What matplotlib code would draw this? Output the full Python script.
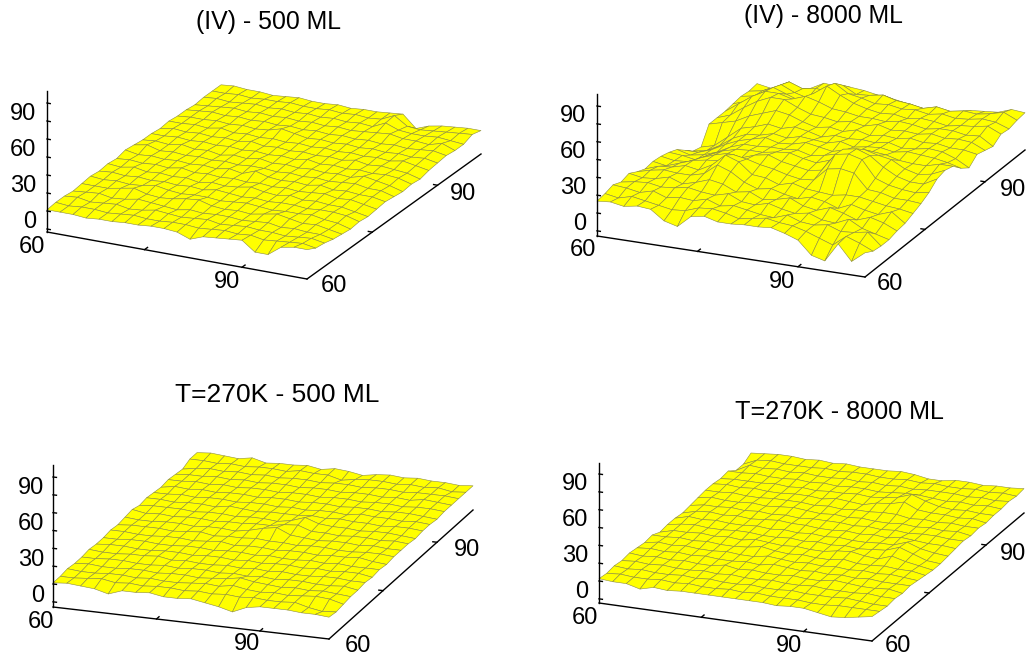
import math
import numpy as np
import matplotlib
matplotlib.use("Agg")
import matplotlib.pyplot as plt
from mpl_toolkits.mplot3d import proj3d

plt.rcParams['font.family'] = ['Liberation Sans', 'DejaVu Sans']
W, H = 1032, 657

grid = [60, 62, 64, 66, 68, 70, 72, 74, 76, 78, 80, 82, 84, 86, 88, 90, 92, 94, 96, 98, 100]
z_ticks = [-15, 0, 15, 30, 45, 60, 75, 90]
xy_ticks = [75, 90]

titles = ["(IV) - 500 ML", "(IV) - 8000 ML", "T=270K - 500 ML", "T=270K - 8000 ML"]

z_iv_500 = [
[1,1,1,0,1,1,2,2,3,3,2,-2,2,3,4,5,-3,-3,5,7,7],
[2,1,2,2,1,2,3,2,2,3,3,2,3,4,3,4,2,3,4,5,3],
[2,3,1,2,3,1,2,4,3,2,3,4,2,3,4,3,3,2,3,4,2],
[1,2,3,1,2,4,3,2,1,3,2,3,3,2,3,4,2,3,2,2,0],
[2,2,2,4,6,3,2,3,5,6,3,2,3,2,4,6,4,2,3,1,-1],
[3,2,3,2,3,5,3,2,3,3,2,3,4,3,2,3,3,4,2,1,-2],
[2,3,2,3,2,3,2,3,2,4,3,2,3,2,3,3,2,3,3,2,-1],
[3,2,4,2,3,2,3,1,3,2,3,5,3,2,4,2,3,2,2,0,-2],
[2,3,2,3,2,4,2,3,2,3,2,3,2,3,2,3,4,2,3,1,-1],
[4,2,3,2,3,2,3,2,4,2,6,3,2,3,2,4,2,3,2,2,0],
[3,5,2,3,2,3,2,3,2,3,3,2,3,2,3,2,3,4,2,2,-1],
[2,3,2,4,2,3,1,3,2,4,2,3,2,3,2,3,2,5,3,1,-2],
[2,2,3,2,3,2,3,2,3,2,3,2,4,2,3,2,3,2,3,2,-1],
[1,3,2,3,2,3,2,4,2,3,2,3,2,3,2,4,2,3,2,1,-2],
[2,2,3,2,4,2,3,2,3,2,3,2,3,2,3,2,3,2,4,2,0],
[1,2,2,3,2,3,2,3,6,4,2,3,2,3,2,3,2,3,2,3,1],
[1,2,3,2,3,2,3,2,3,2,3,2,3,2,3,2,3,2,3,4,2],
[0,1,2,3,2,3,2,3,2,3,2,3,2,3,4,5,3,3,2,5,1],
[1,2,1,2,3,2,3,2,3,2,3,2,3,2,7,3,2,2,3,2,1],
[1,1,2,1,2,2,3,2,2,3,2,3,2,3,8,1,0,1,2,3,4],
[1,2,1,1,0,1,2,1,1,2,1,2,2,3,4,-6,-2,0,1,2,2],
]

z_iv_8000 = [
[10,11,9,11,10,2,-1,9,11,8,8,9,9,10,7,3,-8,-11,5,-8,1],
[11,9,12,10,8,6,7,11,12,10,7,9,11,9,8,5,1,-3,6,2,-3],
[13,12,10,13,9,11,10,13,9,11,9,7,6,10,6,5,7,3,4,6,-4],
[10,12,13,11,12,14,12,11,14,9,8,11,8,6,8,4,3,8,2,-1,-4],
[12,10,11,14,10,13,17,15,10,12,7,9,12,7,5,9,6,2,6,3,-2],
[8,11,13,12,12,15,24,20,13,9,11,8,6,9,7,3,8,5,3,7,-1],
[5,9,10,13,11,17,27,23,14,13,9,12,9,8,7,9,9,7,5,4,2],
[6,4,8,12,14,15,22,20,17,15,12,10,11,22,24,22,10,9,6,6,5],
[5,3,4,9,13,16,14,18,20,16,14,12,14,29,31,28,14,10,8,7,9],
[3,2,0,6,11,14,15,15,17,18,15,13,17,28,30,26,18,12,9,9,15],
[0,-3,-1,3,9,13,13,14,14,15,12,14,17,22,24,21,19,13,10,12,17],
[-6,-6,-2,4,9,12,15,12,13,16,14,12,15,16,17,16,13,12,12,15,15],
[-12,-10,-4,4,9,10,13,11,14,13,12,15,12,14,15,13,15,14,13,11,8],
[-14,-11,-2,7,10,14,12,15,13,10,13,12,13,12,14,11,12,14,13,9,3],
[0,3,6,12,16,20,18,14,11,13,11,14,11,13,12,14,12,13,11,11,9],
[0,4,12,19,24,24,19,15,14,12,14,12,15,12,13,12,14,12,13,12,7],
[0,8,16,22,22,19,23,20,16,15,13,13,12,14,13,11,13,13,11,12,5],
[1,5,13,20,16,12,20,28,22,17,14,12,13,11,13,12,10,12,13,15,10],
[2,4,10,17,12,9,16,25,18,16,13,14,12,13,11,13,11,12,14,13,9],
[1,3,8,14,10,12,10,18,12,13,15,12,11,9,12,10,12,11,13,16,11],
[2,0,1,-1,5,11,10,11,10,8,7,5,3,2,0,1,7,8,9,13,12],
]

z_t270_500 = [
[1,2,1,0,-3,1,1,2,0,0,1,-1,-3,-6,-1,1,1,1,0,0,-1],
[1,1,2,3,1,2,1,2,2,1,2,1,2,1,2,1,1,2,-1,-3,-2],
[2,1,1,2,2,1,2,1,1,2,3,2,4,2,1,2,1,2,3,2,-1],
[1,2,1,1,2,2,1,2,2,1,2,3,5,3,2,1,2,1,2,1,0],
[1,1,2,2,1,1,2,1,2,2,1,2,1,2,1,2,2,1,1,2,0],
[2,1,1,2,2,3,1,2,1,1,2,1,2,1,2,1,1,2,2,1,1],
[1,2,2,1,1,2,2,1,2,2,1,2,1,2,2,1,2,1,2,2,0],
[1,1,2,2,1,1,2,2,1,2,2,1,2,1,1,2,1,2,1,1,1],
[2,2,1,1,2,2,1,2,3,1,2,2,1,2,2,1,2,2,3,1,0],
[1,2,2,2,1,2,3,1,2,2,3,2,2,1,2,2,1,1,2,2,1],
[2,1,1,2,2,1,2,2,1,3,6,8,3,2,1,2,2,1,2,1,1],
[3,1,2,1,2,2,1,2,2,3,3,5,6,2,2,1,2,2,1,2,1],
[1,2,2,2,1,2,2,1,2,2,1,3,7,3,2,2,1,2,2,1,0],
[2,2,1,2,2,1,3,2,1,2,2,2,3,2,3,2,2,1,2,2,1],
[1,1,2,1,2,2,1,2,2,1,2,1,2,2,1,3,2,2,1,2,1],
[0,2,1,2,1,2,2,1,2,2,1,2,2,1,2,2,1,2,2,1,0],
[1,1,2,1,2,1,2,2,1,2,2,1,2,2,1,2,2,1,2,2,1],
[0,1,1,2,1,2,1,2,2,1,2,2,1,2,2,1,2,1,3,2,1],
[-1,1,2,1,2,1,2,1,2,2,1,2,2,1,2,2,1,2,2,2,1],
[2,2,1,2,1,2,2,1,3,2,2,-1,1,2,2,1,2,1,2,0,1],
[2,3,2,1,3,0,1,1,2,0,2,1,-1,1,2,1,2,1,1,0,1],
]

z_t270_8000 = [
[2,1,1,-2,1,0,1,1,1,1,1,1,1,0,1,1,-1,-3,-2,0,2],
[1,2,1,1,2,1,2,1,1,2,1,2,1,1,1,0,0,1,1,1,1],
[2,1,2,1,1,2,1,2,1,1,2,1,1,2,1,1,1,2,1,0,0],
[1,2,1,2,1,1,2,1,2,1,1,2,1,1,2,1,1,1,2,1,1],
[2,1,2,1,2,1,1,3,1,2,1,1,2,1,1,3,2,1,1,2,0],
[1,2,1,2,1,2,1,1,2,1,3,2,1,2,1,2,1,2,1,1,1],
[0,2,1,2,1,1,2,1,1,3,2,1,2,1,2,1,2,1,2,1,0],
[1,1,2,1,2,1,1,2,4,2,1,2,1,1,3,1,1,2,1,1,-1],
[-2,1,1,2,1,2,1,3,2,1,2,1,1,3,4,2,1,5,2,0,-2],
[-1,1,2,1,1,2,2,1,1,2,1,2,1,2,1,2,3,7,3,-1,-2],
[-1,2,1,2,1,1,2,1,2,1,2,1,2,1,1,2,2,6,2,0,-1],
[-2,1,2,1,2,1,2,3,2,2,1,1,2,1,2,1,3,2,1,1,0],
[-1,1,1,2,1,2,1,2,1,2,2,2,1,2,1,2,1,2,2,1,1],
[0,2,1,1,2,1,2,3,2,1,2,1,2,1,1,2,1,2,1,2,0],
[1,1,2,1,1,2,2,2,1,2,1,2,2,3,3,1,2,1,2,1,1],
[1,2,1,2,1,1,2,2,1,3,2,1,4,5,8,3,2,2,1,2,0],
[0,1,1,1,2,1,2,1,2,2,3,2,3,5,9,5,2,1,2,1,1],
[1,1,2,1,1,2,1,2,1,2,2,1,2,3,3,2,1,2,1,2,1],
[-4,2,1,2,1,2,1,1,2,1,2,1,2,1,2,2,2,1,2,1,2],
[-4,1,2,1,1,1,2,1,2,2,1,1,2,1,2,1,1,2,1,2,1],
[0,1,2,2,1,2,1,2,1,1,1,2,1,-1,-1,1,1,0,1,1,2],
]

panels = [
    dict(z=z_iv_500, O=(47, 232), Xe=(307, 279), Ye=(481, 154), Zt=(47, 91), z0=211, z90=103, fs=17.9,
         title=(268, 21), zl=[(23, 112), (23, 148), (23, 184), (30, 220)],
         xl=[(32, 246), (227, 280)], yl=[(334, 285), (463, 192)]),
    dict(z=z_iv_8000, O=(597, 236), Xe=(865, 277), Ye=(1025, 150), Zt=(597, 94), z0=213, z90=106, fs=17.9,
         title=(823, 15), zl=[(573, 115), (573, 151), (573, 187), (580, 223)],
         xl=[(583, 249), (782, 281)], yl=[(890, 283), (1013, 189)]),
    dict(z=z_t270_500, O=(53, 607), Xe=(329, 639), Ye=(473, 510), Zt=(53, 465), z0=584, z90=477, fs=19,
         title=(277, 394), zl=[(31, 487), (31, 523), (31, 558), (38, 594)],
         xl=[(41, 620), (247, 642)], yl=[(358, 644), (467, 549)]),
    dict(z=z_t270_8000, O=(599, 603), Xe=(872, 641), Ye=(1024, 513), Zt=(599, 463), z0=581, z90=474, fs=18.1,
         title=(839, 411), zl=[(575, 483), (575, 519), (575, 555), (582, 591)],
         xl=[(585, 617), (789, 644)], yl=[(898, 644), (1013, 552)]),
]

fig = plt.figure(figsize=(W / 100, H / 100), dpi=100, facecolor='white')


def px(ax, x, y, z):
    a, b, _ = proj3d.proj_transform(x, y, z, ax.get_proj())
    return ax.transData.transform((a, b))


def add_text(pos, s, size, dy=0):
    fig.text(pos[0] / W, 1 - (pos[1] + dy) / H, s, ha='center', va='center', fontsize=size, color='black')


for n, p in enumerate(panels):
    O, Xe, Ye, Zt = [np.array(p[k], float) for k in ('O', 'Xe', 'Ye', 'Zt')]
    vx = Xe - O
    vy = Ye - Xe
    t1 = vx[1] / vx[0]
    t2 = (-vy[1]) / vy[0]
    sin_e = math.sqrt(t1 * t2)
    ratio = math.sqrt(t1 / t2)
    azim = -math.degrees(math.atan2(1, ratio))
    s, c = math.sin(math.radians(-azim)), math.cos(math.radians(azim))
    elev = math.degrees(math.asin(sin_e))
    lx, ly, lz = vx[0] / s, vy[0] / c, (O[1] - Zt[1]) / math.cos(math.radians(elev))

    unit = (p['z0'] - p['z90']) / 90
    zmin, zmax = -(O[1] - p['z0']) / unit, (p['z0'] - Zt[1]) / unit

    size = 0.5
    ax = fig.add_axes([0.1, 0.1, size, size * W / H], projection='3d', computed_zorder=False)
    ax.patch.set_alpha(0)
    ax.set_proj_type('ortho')
    ax.view_init(elev=elev, azim=azim, roll=0)
    ax.set_box_aspect((lx, ly, lz))
    ax.set_xlim(60, 100, view_margin=0)
    ax.set_ylim(60, 100, view_margin=0)
    ax.set_zlim(zmin, zmax, view_margin=0)
    ax.set_axis_off()

    X, Y = np.meshgrid(grid, grid)
    ax.plot_surface(X, Y, np.array(p['z'], float), rstride=1, cstride=1, color='#ffff00',
                    shade=False, edgecolor='#8c8c40', linewidth=0.4, antialiased=True, zorder=1)

    lw = 1.0
    ax.plot([60, 60], [60, 60], [zmin, zmax], color='black', lw=lw, zorder=3)
    ax.plot([60, 100], [60, 60], [zmin, zmin], color='black', lw=lw, zorder=3)
    ax.plot([100, 100], [60, 100], [zmin, zmin], color='black', lw=lw, zorder=3)
    for t in z_ticks:
        ax.plot([60, 60.5], [60, 60], [t, t], color='black', lw=lw, zorder=3)
    for t in xy_ticks:
        ax.plot([t, t], [60, 60.7], [zmin, zmin], color='black', lw=lw, zorder=3)
        ax.plot([100, 99.4], [t, t], [zmin, zmin], color='black', lw=lw, zorder=3)

    # fit the axes box so the drawn corners land where the reference has them
    for _ in range(4):
        ax.apply_aspect()
        a = px(ax, 60, 60, zmin)
        b = px(ax, 100, 100, zmin)
        want = np.array([O[0], H - O[1]])
        want_b = np.array([Ye[0], H - Ye[1]])
        scale = np.linalg.norm(want_b - want) / np.linalg.norm(b - a)
        pos = ax.get_position(original=True)
        w = pos.width * scale
        h = pos.height * scale
        cx, cy = pos.x0 + pos.width / 2, pos.y0 + pos.height / 2
        ax.set_position([cx - w / 2, cy - h / 2, w, h])
        ax.apply_aspect()
        a = px(ax, 60, 60, zmin)
        dx, dy = (want - a) / np.array([W, H])
        pos = ax.get_position(original=True)
        ax.set_position([pos.x0 + dx, pos.y0 + dy, pos.width, pos.height])

    add_text(p['title'], titles[n], p['fs'], dy=1)
    for lab, pos in zip(['90', '60', '30', '0'], p['zl']):
        add_text(pos, lab, 17, dy=1.5)
    for lab, pos in zip(['60', '90'], p['xl']):
        add_text(pos, lab, 17, dy=1.5)
    for lab, pos in zip(['60', '90'], p['yl']):
        add_text(pos, lab, 17, dy=1.5)

fig.savefig('out.png', dpi=100, facecolor='white')
